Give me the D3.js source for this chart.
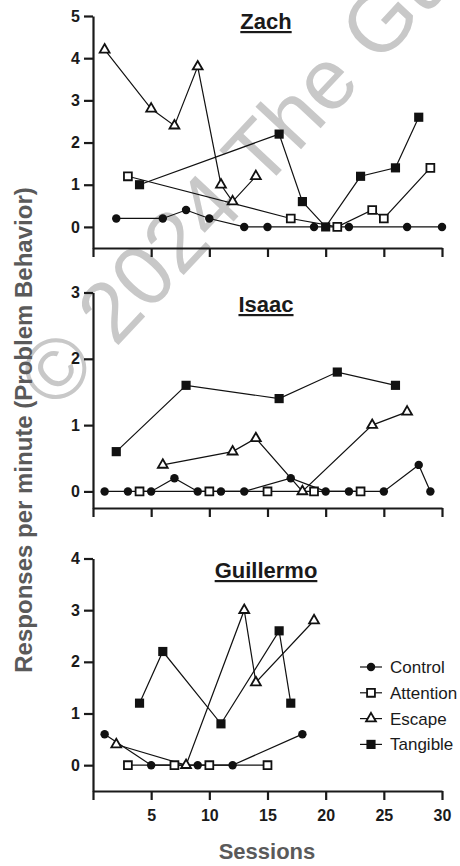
<!DOCTYPE html>
<html>
<head>
<meta charset="utf-8">
<script src="https://cdn.jsdelivr.net/npm/d3@7"></script>
<style>
  body { margin: 0; background: #fff; }
  svg { display: block; font-family: "Liberation Sans", Arial, sans-serif; }
  .axis path, .axis line { stroke: #1a1a1a; stroke-width: 2.2px; }
  .axis text { font-size: 16px; font-weight: bold; fill: #1a1a1a; }
</style>
</head>
<body>
<div id="chart"></div>
<script>
// sessions on x, responses per minute on y
const sessionTicks = [0, 5, 10, 15, 20, 25, 30];
const sessionLabels = ["", "5", "10", "15", "20", "25", "30"];
const conditions = ["Control", "Attention", "Escape", "Tangible"];
const participants = ["Zach", "Isaac", "Guillermo"];

const zachControl = [[2, 0.2], [6, 0.2], [8, 0.4], [10, 0.2], [13, 0], [15, 0], [19, 0], [22, 0], [27, 0], [30, 0]];
const zachAttention = [[3, 1.2], [17, 0.2], [21, 0], [24, 0.4], [25, 0.2], [29, 1.4]];
const zachEscape = [[1, 4.2], [5, 2.8], [7, 2.4], [9, 3.8], [11, 1.0], [12, 0.6], [14, 1.2]];
const zachTangible = [[4, 1.0], [16, 2.2], [18, 0.6], [20, 0], [23, 1.2], [26, 1.4], [28, 2.6]];

const isaacControl = [[1, 0], [3, 0], [5, 0], [7, 0.2], [9, 0], [11, 0], [13, 0], [17, 0.2], [20, 0], [22, 0], [25, 0], [28, 0.4], [29, 0]];
const isaacAttention = [[4, 0], [10, 0], [15, 0], [19, 0], [23, 0]];
const isaacEscape = [[6, 0.4], [12, 0.6], [14, 0.8], [18, 0], [24, 1.0], [27, 1.2]];
const isaacTangible = [[2, 0.6], [8, 1.6], [16, 1.4], [21, 1.8], [26, 1.6]];

const guillermoControl = [[1, 0.6], [5, 0], [9, 0], [12, 0], [18, 0.6]];
const guillermoAttention = [[3, 0], [7, 0], [10, 0], [15, 0]];
const guillermoEscape = [[2, 0.4], [8, 0], [13, 3.0], [14, 1.6], [19, 2.8]];
const guillermoTangible = [[4, 1.2], [6, 2.2], [11, 0.8], [16, 2.6], [17, 1.2]];

const yMins = [-0.5, -0.25, -0.5];
const yMaxs = [5, 3, 4];

const seriesByPanel = [
  [zachControl, zachAttention, zachEscape, zachTangible],
  [isaacControl, isaacAttention, isaacEscape, isaacTangible],
  [guillermoControl, guillermoAttention, guillermoEscape, guillermoTangible]
];

const width = 460, height = 866;
const left = 93, right = 442;
// pixel extents for each panel: [axis line y, top y]
const panelBox = [[248, 16], [508, 292.5], [791, 558.5]];
const titleY = [29, 312, 578];

const markerStyle = [
  { type: d3.symbolCircle, size: 56, fill: "#111", stroke: "none" },
  { type: d3.symbolSquare, size: 62, fill: "#fff", stroke: "#111" },
  { type: d3.symbolTriangle, size: 42, fill: "#fff", stroke: "#111" },
  { type: d3.symbolSquare, size: 84, fill: "#111", stroke: "none" }
];

const svg = d3.select("#chart").append("svg")
  .attr("width", width)
  .attr("height", height);

/* watermark behind the data */
svg.append("text")
  .attr("transform", "translate(56,412) rotate(-47)")
  .attr("font-size", 86)
  .attr("fill", "#c8c8c8")
  .text("© 2024 The Guilford Press");

const x = d3.scaleLinear().domain([0, 30]).range([left, right]);

participants.forEach((name, p) => {
  const [bottom, top] = panelBox[p];
  const y = d3.scaleLinear().domain([yMins[p], yMaxs[p]]).range([bottom, top]);
  const g = svg.append("g").attr("class", "panel");

  // x axis
  const xAxis = d3.axisBottom(x)
    .tickValues(sessionTicks)
    .tickSizeInner(9)
    .tickSizeOuter(0)
    .tickPadding(10)
    .tickFormat((d, i) => p === 2 ? sessionLabels[i] : "");
  g.append("g")
    .attr("class", "x axis")
    .attr("transform", `translate(0,${bottom})`)
    .call(xAxis);

  // y axis
  const yAxis = d3.axisLeft(y)
    .tickValues(d3.range(0, yMaxs[p] + 1))
    .tickSizeInner(9)
    .tickSizeOuter(0)
    .tickPadding(4)
    .tickFormat(d3.format("d"));
  g.append("g")
    .attr("class", "y axis")
    .attr("transform", `translate(${left},0)`)
    .call(yAxis);

  // title
  g.append("text")
    .attr("x", 266)
    .attr("y", titleY[p])
    .attr("text-anchor", "middle")
    .attr("font-size", 22)
    .attr("font-weight", "bold")
    .attr("fill", "#1a1a1a")
    .attr("text-decoration", "underline")
    .text(name);

  const line = d3.line()
    .x(d => x(d[0]))
    .y(d => y(d[1]));

  // lines first
  g.selectAll(".line")
    .data(seriesByPanel[p])
    .enter()
    .append("path")
    .attr("class", "line")
    .attr("d", line)
    .attr("fill", "none")
    .attr("stroke", "#111")
    .attr("stroke-width", 1.2);

  // then symbols
  seriesByPanel[p].forEach((series, s) => {
    const m = markerStyle[s];
    g.append("g")
      .selectAll("path")
      .data(series)
      .enter()
      .append("path")
      .attr("transform", d => `translate(${x(d[0])},${y(d[1])})`)
      .attr("d", d3.symbol().type(m.type).size(m.size))
      .attr("fill", m.fill)
      .attr("stroke", m.stroke)
      .attr("stroke-width", 1.8);
  });
});

/* legend in the bottom panel */
const legend = svg.append("g").attr("transform", "translate(360,667)");
conditions.forEach((c, i) => {
  const m = markerStyle[i];
  const row = legend.append("g").attr("transform", `translate(0,${i * 25.8})`);
  row.append("line")
    .attr("x1", 0).attr("x2", 22)
    .attr("stroke", "#111").attr("stroke-width", 1.2);
  row.append("path")
    .attr("transform", "translate(11,0)")
    .attr("d", d3.symbol().type(m.type).size(m.size))
    .attr("fill", m.fill)
    .attr("stroke", m.stroke)
    .attr("stroke-width", 1.8);
  row.append("text")
    .attr("x", 30)
    .attr("y", 6)
    .attr("font-size", 17)
    .attr("fill", "#1a1a1a")
    .text(c);
});

/* axis titles */
svg.append("text")
  .attr("x", 267)
  .attr("y", 859)
  .attr("text-anchor", "middle")
  .attr("font-size", 22)
  .attr("font-weight", "bold")
  .attr("fill", "#5a5a5a")
  .text("Sessions");

svg.append("text")
  .attr("transform", "translate(32,430) rotate(-90)")
  .attr("text-anchor", "middle")
  .attr("font-size", 24)
  .attr("font-weight", "bold")
  .attr("fill", "#5a5a5a")
  .text("Responses per minute (Problem Behavior)");
</script>
</body>
</html>
